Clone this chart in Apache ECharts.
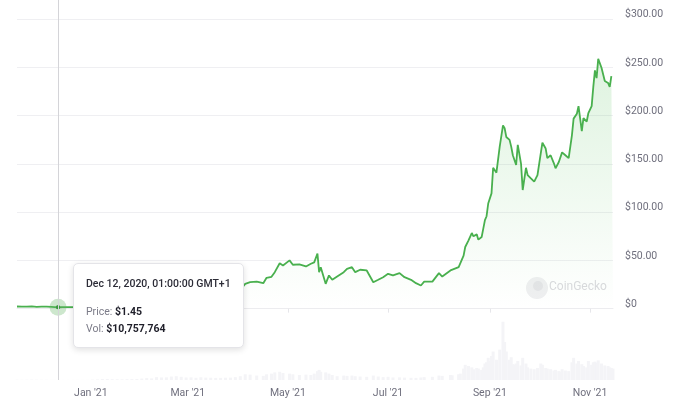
<!DOCTYPE html>
<html>
<head>
<meta charset="utf-8">
<script src="https://cdn.jsdelivr.net/npm/echarts@6/dist/echarts.min.js"></script>
<style>
html,body{margin:0;padding:0;background:#fff;}
#chart{width:680px;height:406px;}
</style>
</head>
<body>
<div id="chart"></div>
<script>
// ---- data ----
const dates = [
'2020-11-17','2020-11-20','2020-11-23','2020-11-26','2020-11-29','2020-12-02','2020-12-05','2020-12-08','2020-12-10','2020-12-12',
'2020-12-15','2020-12-18','2020-12-21','2020-12-24','2020-12-27','2020-12-30','2021-01-02','2021-01-05','2021-01-08','2021-01-11',
'2021-01-14','2021-01-17','2021-01-20','2021-01-23','2021-01-26','2021-01-29','2021-02-01','2021-02-04','2021-02-07','2021-02-10',
'2021-02-13','2021-02-16','2021-02-19','2021-02-22','2021-02-25','2021-02-28','2021-03-03','2021-03-06','2021-03-09','2021-03-12',
'2021-03-15','2021-03-18','2021-03-21','2021-03-24','2021-03-27','2021-03-30','2021-04-02','2021-04-05','2021-04-08','2021-04-12',
'2021-04-16','2021-04-18','2021-04-21','2021-04-23','2021-04-26','2021-04-28','2021-05-02','2021-05-04','2021-05-08','2021-05-12',
'2021-05-15','2021-05-17','2021-05-19','2021-05-20','2021-05-21','2021-05-24','2021-05-26','2021-05-28','2021-05-31','2021-06-04',
'2021-06-06','2021-06-09','2021-06-11','2021-06-14','2021-06-18','2021-06-22','2021-06-25','2021-06-28','2021-07-01','2021-07-04',
'2021-07-08','2021-07-11','2021-07-15','2021-07-18','2021-07-21','2021-07-23','2021-07-28','2021-08-01','2021-08-03','2021-08-08',
'2021-08-09','2021-08-13','2021-08-14','2021-08-16','2021-08-17','2021-08-19','2021-08-21','2021-08-22','2021-08-24','2021-08-25',
'2021-08-27','2021-08-28','2021-08-29','2021-08-30','2021-08-31','2021-09-01','2021-09-02','2021-09-03','2021-09-05','2021-09-07',
'2021-09-09','2021-09-10','2021-09-11','2021-09-13','2021-09-14','2021-09-15','2021-09-16','2021-09-17','2021-09-18','2021-09-20',
'2021-09-21','2021-09-23','2021-09-24','2021-09-26','2021-09-28','2021-09-30','2021-10-02','2021-10-03','2021-10-05','2021-10-06',
'2021-10-08','2021-10-10','2021-10-11','2021-10-13','2021-10-14','2021-10-15','2021-10-17','2021-10-19','2021-10-21','2021-10-22',
'2021-10-24','2021-10-25','2021-10-27','2021-10-28','2021-10-30','2021-10-31','2021-11-02','2021-11-03','2021-11-04','2021-11-05',
'2021-11-06','2021-11-08','2021-11-10','2021-11-12','2021-11-13','2021-11-14','2021-11-15'
];
const prices = [
2.2,2.0,2.1,2.4,1.9,2.0,2.0,1.8,1.6,1.45,
1.5,1.6,1.5,1.3,1.5,1.5,2.0,2.3,3.2,3.0,
3.4,3.6,3.4,3.7,4.0,4.3,5.0,6.2,5.8,8.5,
8.2,9.5,11.5,10.5,13.5,13.2,14.5,13.0,15.5,14.2,
14.5,15.0,16.0,15.5,17.0,18.5,19.5,25.7,27.4,28.0,
26.4,32.0,33.0,37.8,47.0,44.8,50.0,45.5,45.8,43.7,
46.5,48.0,57.0,37.8,43.0,25.7,34.4,29.9,33.3,37.8,
41.3,43.0,37.8,40.3,39.6,27.4,29.9,32.6,36.1,34.4,
36.8,32.6,29.9,26.4,24.0,28.0,28.0,36.8,33.3,39.6,
37.8,43.0,44.8,55.0,63.9,70.8,78.4,75.0,77.0,71.5,
74.3,83.0,91.7,95.8,109.0,109.7,119.5,146.0,141.0,168.0,
190.0,187.0,178.0,175.0,168.0,159.0,157.6,149.0,169.8,150.0,
123.0,146.0,138.5,135.0,131.6,138.5,161.0,172.0,166.0,156.0,
159.0,150.7,145.5,152.0,150.7,162.0,159.0,156.0,180.0,197.0,
202.0,210.0,184.0,197.6,194.0,202.8,210.0,230.0,247.0,239.0,
259.0,249.7,236.0,234.0,230.0,241.0,239.0
];
// 24h volume, millions of USD
const volumesM = [
40,35,45,60,50,35,30,25,20,10.757764,
15,20,18,25,22,20,60,90,160,150,
120,110,100,120,140,170,230,300,260,450,
400,420,550,600,500,400,420,350,430,380,
360,330,340,360,380,450,600,900,850,700,
650,900,1000,1200,1300,1100,1000,900,800,850,
800,1000,1400,1600,1300,1200,1000,800,600,700,
650,700,600,550,500,700,550,450,500,400,
420,380,350,330,400,450,500,700,650,800,
750,900,1000,1800,2400,2200,2000,1700,1900,1800,
1600,2000,2600,2800,3500,3000,3800,4500,3200,4800,
9200,6000,4500,3200,3600,2500,2400,2600,3000,2300,
3500,2600,2000,1800,1700,1900,2600,2400,1900,1800,
1700,1500,1600,1400,1300,1700,1500,1400,2800,3500,
2600,3000,2500,2200,2000,3000,2400,2800,2900,2700,
3100,2600,2300,2200,2000,1900,1800
];
const priceTicks = [0, 50, 100, 150, 200, 250, 300];
const monthTicks = ['2021-01-01','2021-03-01','2021-05-01','2021-07-01','2021-09-01','2021-11-01'];
const monthNames = ['Jan','Feb','Mar','Apr','May','Jun','Jul','Aug','Sep','Oct','Nov','Dec'];
const xRange = ['2020-11-17', '2021-11-15'];
const hoverDate = '2020-12-12';
const hoverTime = '01:00:00 GMT+1';

// ---- chart ----
const ts = s => +echarts.time.parse(s);
const hi = dates.indexOf(hoverDate);
const FONT = 'Roboto, "Noto Sans", sans-serif';
const chart = echarts.init(document.getElementById('chart'), null, {renderer: 'canvas'});

function fmtDate(s) {
  const p = s.split('-');
  return monthNames[+p[1] - 1] + ' ' + (+p[2]) + ', ' + p[0] + ', ' + hoverTime;
}

const option = {
  animation: false,
  backgroundColor: '#ffffff',
  grid: {left: 17, right: 67, top: 0, bottom: 26, outerBoundsMode: 'none'},
  xAxis: {
    type: 'value',
    min: ts(xRange[0]),
    max: ts(xRange[1]),
    axisLine: {show: true, lineStyle: {color: '#ececef', width: 1}},
    axisTick: {show: true, customValues: monthTicks.map(ts), length: 4, lineStyle: {color: '#e6e6ea'}},
    axisLabel: {
      customValues: monthTicks.map(ts),
      alignMinLabel: 'center',
      alignMaxLabel: 'center',
      color: '#6f6f7d', fontSize: 10.5, fontFamily: FONT, margin: 8,
      formatter: function (v) {
        const d = new Date(v);
        return monthNames[d.getMonth()] + " '" + String(d.getFullYear()).slice(2);
      }
    },
    splitLine: {show: false}
  },
  yAxis: [{
    type: 'value',
    position: 'right',
    min: -74,
    max: 320,
    axisLine: {show: false},
    axisTick: {show: false, customValues: priceTicks},
    axisLabel: {
      customValues: priceTicks,
      color: '#6f6f7d', fontSize: 10.5, fontFamily: FONT, margin: 12,
      verticalAlign: 'bottom', lineHeight: 9,
      formatter: v => v === 0 ? '$0' : '$' + v.toFixed(2)
    },
    splitLine: {show: true, lineStyle: {color: '#efeff2', width: 1}}
  }, {
    type: 'value',
    min: 0,
    max: 60000,
    show: false,
    splitLine: {show: false}
  }],
  tooltip: {
    trigger: 'axis',
    triggerOn: 'none',
    alwaysShowContent: true,
    transitionDuration: 0,
    showDelay: 0,
    position: [73, 263],
    backgroundColor: '#ffffff',
    borderColor: '#e4e4e8',
    borderWidth: 1,
    padding: [12, 12, 10, 12],
    extraCssText: 'border-radius:5px;box-shadow:0 2px 6px rgba(0,0,0,0.12);',
    axisPointer: {type: 'line', label: {show: false}, lineStyle: {color: '#d4d4d8', width: 1, type: 'solid'}},
    formatter: function (params) {
      const p = params.find(q => q.seriesIndex === 0) || params[0];
      const i = p.dataIndex;
      const vol = Math.round(volumesM[i] * 1e6).toLocaleString('en-US');
      return '<div style="font-family:Roboto,sans-serif;font-size:10.5px;">' +
        '<div style="line-height:15px;font-weight:500;color:#2c2c37;">' + fmtDate(dates[i]) + '</div>' +
        '<div style="height:12px"></div>' +
        '<div style="line-height:17px;"><span style="color:#7b7b88;">Price: </span><b style="color:#1e1e29;font-weight:700;">$' + prices[i].toFixed(2) + '</b></div>' +
        '<div style="line-height:17px;"><span style="color:#7b7b88;">Vol: </span><b style="color:#1e1e29;font-weight:700;">$' + vol + '</b></div>' +
        '</div>';
    }
  },
  graphic: [
    {type: 'circle', shape: {cx: 537, cy: 288, r: 11}, style: {fill: '#efeff1'}, silent: true, z: 1},
    {type: 'circle', shape: {cx: 538, cy: 286, r: 5}, style: {fill: '#e4e4e7'}, silent: true, z: 1},
    {type: 'text', x: 549, y: 281, style: {text: 'CoinGecko', fill: '#dadade', font: '12px Roboto, sans-serif'}, silent: true, z: 1}
  ],
  series: [{
    type: 'line',
    name: 'Price',
    data: dates.map((d, i) => [ts(d), prices[i]]),
    showSymbol: false,
    symbol: 'circle',
    symbolSize: 4,
    lineStyle: {color: '#43a047', width: 1.8},
    itemStyle: {color: '#3c963f'},
    emphasis: {scale: false},
    areaStyle: {
      origin: 'auto',
      color: new echarts.graphic.LinearGradient(0, 0, 0, 1, [
        {offset: 0, color: 'rgba(76,175,80,0.27)'},
        {offset: 1, color: 'rgba(76,175,80,0.0)'}
      ])
    },
    markPoint: {
      silent: true,
      label: {show: false},
      data: [
        {coord: [ts(dates[hi]), prices[hi]], symbol: 'circle', symbolSize: 17, itemStyle: {color: 'rgba(100,180,100,0.32)'}},
        {coord: [ts(dates[hi]), prices[hi]], symbol: 'circle', symbolSize: 4, itemStyle: {color: '#3c963f'}}
      ]
    },
    z: 3
  }, {
    type: 'bar',
    name: 'Volume',
    yAxisIndex: 1,
    data: dates.map((d, i) => [ts(d), volumesM[i]]),
    barWidth: 3,
    itemStyle: {color: '#f4f4f7'},
    emphasis: {disabled: true},
    z: 1
  }]
};
chart.setOption(option);
chart.dispatchAction({type: 'showTip', seriesIndex: 0, dataIndex: hi});
</script>
</body>
</html>
